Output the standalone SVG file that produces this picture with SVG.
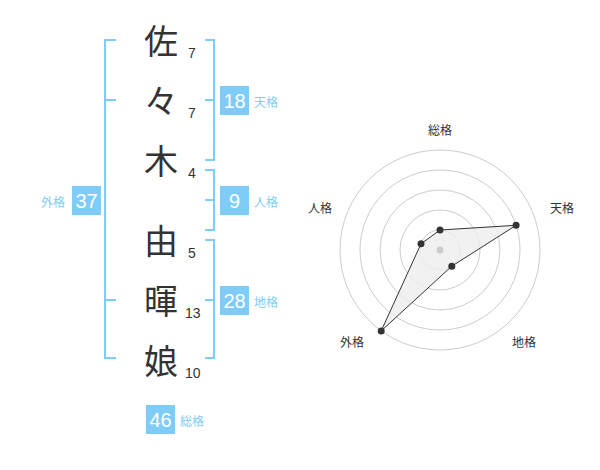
<svg xmlns="http://www.w3.org/2000/svg" width="600" height="470" viewBox="0 0 600 470">
<style>
.ch{font-family:"Noto Sans CJK JP","Noto Sans CJK SC",sans-serif;font-size:34px;fill:#333;text-anchor:middle}
.num{font-family:"Liberation Sans",Arial,sans-serif;font-size:14px;fill:#333}
.br{fill:none;stroke:#80ccf8;stroke-width:2}
.box{fill:#80ccf8}
.bt{font-family:"Liberation Sans",Arial,sans-serif;font-size:20px;fill:#fff;text-anchor:middle}
.lb{font-family:"Noto Sans CJK JP","Noto Sans CJK SC",sans-serif;font-size:12px;fill:#80ccf8}
.rl{font-family:"Noto Sans CJK JP","Noto Sans CJK SC",sans-serif;font-size:12px;fill:#333;text-anchor:middle}
.ring{fill:none;stroke:#ccc;stroke-width:1}
.pt{fill:#333}
</style>
<rect width="600" height="470" fill="#fff"/>
<g id="connectors">
<path class="br" d="M116,40 H105 V358 H116 M105,100 H116 M105,300 H116"/>
<path class="br" d="M205,40 H214 V160 H205 M205,100 H214"/>
<path class="br" d="M205,170 H214 V230 H205 M205,200 H214"/>
<path class="br" d="M205,240 H214 V358 H205 M205,300 H214"/>
</g>
<g id="name">
<text class="ch" x="161" y="54">佐</text>
<text class="ch" x="161" y="114">々</text>
<text class="ch" x="161" y="174">木</text>
<text class="ch" x="161" y="254">由</text>
<text class="ch" x="161" y="314">暉</text>
<text class="ch" x="161" y="374">娘</text>
<text class="num" x="188" y="58">7</text>
<text class="num" x="188" y="118">7</text>
<text class="num" x="188" y="178">4</text>
<text class="num" x="188" y="258">5</text>
<text class="num" x="185" y="318">13</text>
<text class="num" x="185" y="378">10</text>
</g>
<g id="tenkaku">
<rect class="box" x="220" y="86" width="29" height="29"/>
<text class="bt" x="234.5" y="108">18</text>
<text class="lb" x="254" y="107">天格</text>
</g>
<g id="jinkaku">
<rect class="box" x="220" y="186" width="29" height="29"/>
<text class="bt" x="234.5" y="208">9</text>
<text class="lb" x="254" y="207">人格</text>
</g>
<g id="chikaku">
<rect class="box" x="220" y="286" width="29" height="29"/>
<text class="bt" x="234.5" y="308">28</text>
<text class="lb" x="254" y="307">地格</text>
</g>
<g id="gaikaku">
<rect class="box" x="72" y="186" width="29" height="29"/>
<text class="bt" x="86.5" y="208">37</text>
<text class="lb" x="41" y="207">外格</text>
</g>
<g id="soukaku">
<rect class="box" x="146" y="405" width="29" height="29"/>
<text class="bt" x="160.5" y="427">46</text>
<text class="lb" x="180" y="426">総格</text>
</g>
<g id="radar">
<circle class="ring" cx="440" cy="250" r="100"/>
<circle class="ring" cx="440" cy="250" r="80"/>
<circle class="ring" cx="440" cy="250" r="60"/>
<circle class="ring" cx="440" cy="250" r="40"/>
<circle class="ring" cx="440" cy="250" r="20"/>
<polygon points="440,230 516.1,225.3 451.8,266.2 381.2,330.9 421,243.8" fill="#eee" fill-opacity="0.8" stroke="#333" stroke-width="1"/>
<circle cx="440" cy="250" r="3.5" fill="#ccc"/>
<circle class="pt" cx="440" cy="230" r="3.5"/>
<circle class="pt" cx="516.1" cy="225.3" r="3.5"/>
<circle class="pt" cx="451.8" cy="266.2" r="3.5"/>
<circle class="pt" cx="381.2" cy="330.9" r="3.5"/>
<circle class="pt" cx="421" cy="243.8" r="3.5"/>
<text class="rl" x="440" y="135">総格</text>
<text class="rl" x="562" y="213">天格</text>
<text class="rl" x="320" y="213">人格</text>
<text class="rl" x="352" y="347">外格</text>
<text class="rl" x="524" y="347">地格</text>
</g>
</svg>
